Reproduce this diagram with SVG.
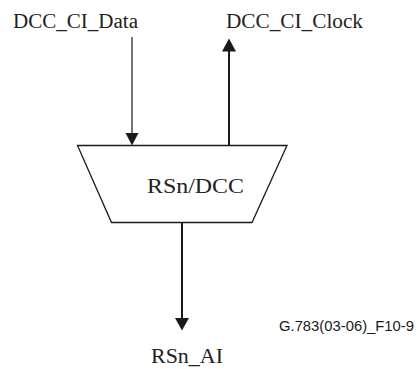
<svg xmlns="http://www.w3.org/2000/svg" width="417" height="369" viewBox="0 0 417 369">
<style>
.t{font-family:"Liberation Serif","Times New Roman",serif;font-size:20px;fill:#222}
.f{font-family:"Liberation Sans",Arial,sans-serif;font-size:14px;fill:#1a1a1a}
.ln{stroke:#1a1a1a;fill:none}
.ah{fill:#1a1a1a}
</style>
<rect width="417" height="369" fill="#fff"/>
<g id="connectors">
<line class="ln" x1="132" y1="37" x2="132" y2="134" stroke-width="1.2"/>
<polygon class="ah" points="125.5,133 138.5,133 132,145.5"/>
<line class="ln" x1="229" y1="145.5" x2="229" y2="50" stroke-width="2"/>
<polygon class="ah" points="222,51.5 236,51.5 229,38.5"/>
<line class="ln" x1="182" y1="223" x2="182" y2="319" stroke-width="2"/>
<polygon class="ah" points="175,318 189,318 182,330.5"/>
</g>
<g id="node-rsn-dcc">
<polygon class="ln" points="77.5,145.5 287,145.5 252,222.5 111.5,222.5" stroke-width="1.3"/>
<text class="t" x="147" y="193.3" textLength="97" lengthAdjust="spacingAndGlyphs">RSn/DCC</text>
</g>
<g id="label-data"><text class="t" x="13" y="28" textLength="125" lengthAdjust="spacingAndGlyphs">DCC_CI_Data</text></g>
<g id="label-clock"><text class="t" x="226" y="28" textLength="137" lengthAdjust="spacingAndGlyphs">DCC_CI_Clock</text></g>
<g id="label-ai"><text class="t" x="151" y="363" textLength="72" lengthAdjust="spacingAndGlyphs">RSn_AI</text></g>
<text class="f" x="279" y="331" textLength="135" lengthAdjust="spacingAndGlyphs">G.783(03-06)_F10-9</text>
</svg>
